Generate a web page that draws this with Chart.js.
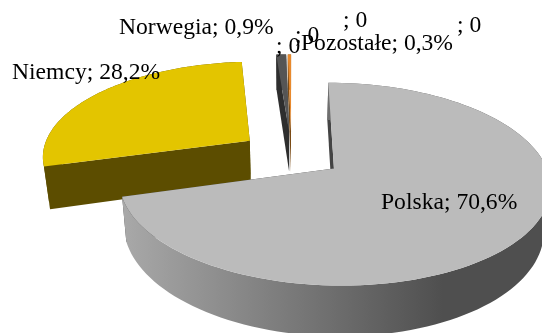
<!DOCTYPE html>
<html>
<head>
<meta charset="utf-8">
<title>Udział</title>
<script src="https://cdn.jsdelivr.net/npm/chart.js"></script>
<style>
html, body { margin: 0; padding: 0; background: #fff; overflow: hidden; }
canvas { display: block; }
</style>
</head>
<body>
<canvas id="pie" width="542" height="333"></canvas>
<script>
// data
const categories = ["Polska", "Niemcy", "Norwegia", "Pozostałe", "", "", "", ""];
const shares = [70.6, 28.2, 0.9, 0.3, 0, 0, 0, 0];

// colours per slice: top face, radial cut, outer rim
const topColors = ["#bbbbbb", "#e3c500", "#555555", "#e8892c"];
const cutColors = ["#444444", "#5c4d00", "#2e2e2e", "#7a4a14"];

// baseline-left position of every data label
const labelX = [381, 12, 119, 301, 276, 295, 343, 457];
const labelY = [209, 79, 34, 50, 53, 42, 27, 32];

// tilted disc: perspective projection of the pie plane
const cx = 291.5, cy = 154;
const radiusX = 208, radiusY = 94.6;
const tiltK = 0.15;
const explode = 0.25;
const depth = 42;
const steps = 120;

function project(u, v) {
  const s = 1 / (1 + tiltK * v);
  return { x: cx + radiusX * u * s, y: cy - radiusY * v * s, s };
}

// same point pushed down to the underside of the slab
function lower(p) {
  return { x: p.x - 0.025 * (p.x - 290), y: p.y + depth * p.s };
}

function trace(ctx, pts) {
  ctx.beginPath();
  pts.forEach((p, i) => i ? ctx.lineTo(p.x, p.y) : ctx.moveTo(p.x, p.y));
  ctx.closePath();
}

function drawSlice(ctx, arc, i) {
  const a0 = arc.startAngle + Math.PI / 2;
  const a1 = arc.endAngle + Math.PI / 2;
  const mid = (a0 + a1) / 2;
  const ou = explode * Math.sin(mid), ov = explode * Math.cos(mid);

  const apex = project(ou, ov);
  const rim = [];
  for (let k = 0; k <= steps; k++) {
    const a = a0 + (a1 - a0) * k / steps;
    rim.push(project(ou + Math.sin(a), ov + Math.cos(a)));
  }
  const first = rim[0], last = rim[rim.length - 1];

  // radial cuts
  ctx.fillStyle = cutColors[i];
  trace(ctx, [apex, first, lower(first), lower(apex)]);
  ctx.fill();
  trace(ctx, [apex, last, lower(last), lower(apex)]);
  ctx.fill();

  // outer rim, shaded from left to right
  const grad = ctx.createLinearGradient(125, 0, 443, 0);
  grad.addColorStop(0, i === 0 ? "#a8a8a8" : cutColors[i]);
  grad.addColorStop(1, i === 0 ? "#4f4f4f" : cutColors[i]);
  ctx.fillStyle = grad;
  trace(ctx, rim.concat(rim.map(lower).reverse()));
  ctx.fill();

  // top face
  ctx.fillStyle = topColors[i];
  trace(ctx, [apex].concat(rim));
  ctx.fill();
}

const slabPie = {
  id: "slabPie",
  beforeDatasetDraw(chart, args) {
    const ctx = chart.ctx;
    const arcs = args.meta.data;
    ctx.save();
    // small slices first, the big one ends up on top
    for (let i = arcs.length - 1; i >= 0; i--) {
      if (shares[i] > 0) drawSlice(ctx, arcs[i], i);
    }
    ctx.restore();
    return false;
  },
  afterDatasetsDraw(chart) {
    const ctx = chart.ctx;
    ctx.save();
    ctx.font = '23.6px "Liberation Serif"';
    ctx.fillStyle = "#000";
    ctx.textBaseline = "alphabetic";
    categories.forEach((name, i) => {
      const value = shares[i] > 0 ? String(shares[i]).replace(".", ",") + "%" : "0";
      ctx.fillText(name + "; " + value, labelX[i], labelY[i]);
    });
    ctx.restore();
  }
};

new Chart(document.getElementById("pie"), {
  type: "pie",
  data: {
    labels: categories,
    datasets: [{ data: shares, backgroundColor: topColors, borderWidth: 0 }]
  },
  options: {
    responsive: false,
    animation: false,
    plugins: { legend: { display: false }, tooltip: { enabled: false } }
  },
  plugins: [slabPie]
});
</script>
</body>
</html>
